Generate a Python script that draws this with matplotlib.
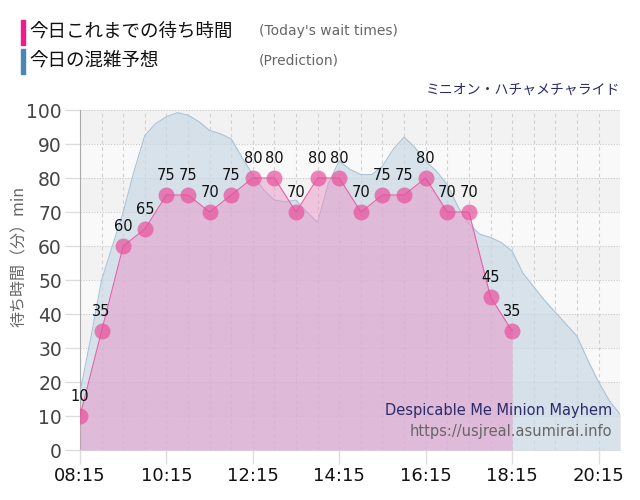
import matplotlib.pyplot as plt
import numpy as np

plt.rcParams['font.family'] = ['DejaVu Sans', 'Noto Sans CJK JP']

# actual wait times (every 30 min)
wait_times = ["08:15", "08:45", "09:15", "09:45", "10:15", "10:45", "11:15",
              "11:45", "12:15", "12:45", "13:15", "13:45", "14:15", "14:45",
              "15:15", "15:45", "16:15", "16:45", "17:15", "17:45", "18:15"]
wait_vals = [10, 35, 60, 65, 75, 75, 70, 75, 80, 80, 70, 80, 80, 70,
             75, 75, 80, 70, 70, 45, 35]

# prediction (every 15 min)
pred_times = ["08:15", "08:30", "08:45", "09:00", "09:15", "09:30", "09:45",
              "10:00", "10:15", "10:30", "10:45", "11:00", "11:15", "11:30",
              "11:45", "12:00", "12:15", "12:30", "12:45", "13:00", "13:15",
              "13:30", "13:45", "14:00", "14:15", "14:30", "14:45", "15:00",
              "15:15", "15:30", "15:45", "16:00", "16:15", "16:30", "16:45",
              "17:00", "17:15", "17:30", "17:45", "18:00", "18:15", "18:30",
              "18:45", "19:00", "19:15", "19:30", "19:45", "20:00", "20:15",
              "20:30", "20:45"]
pred_vals = [17, 33, 50, 60, 70, 82, 92.5, 96, 98, 99.2, 98.5, 96.6, 94, 93,
             91.5, 86, 81, 76.5, 73.5, 73, 73.5, 70, 67, 78.5, 85, 82.5, 81,
             81, 83.5, 88.5, 92, 89, 85, 82, 78, 71.5, 66.5, 63.5, 62.5, 61,
             58.5, 52, 48, 44, 40.5, 37, 33.5, 26.5, 20, 14.5, 10.5]

tick_labels = ["08:15", "10:15", "12:15", "14:15", "16:15", "18:15", "20:15"]


def to_h(s):
    h, m = s.split(":")
    return int(h) + int(m) / 60


wx = np.array([to_h(t) for t in wait_times])
px = np.array([to_h(t) for t in pred_times])

fig = plt.figure(figsize=(6.4, 5.0), dpi=100)
ax = fig.add_axes([0.125, 0.1, 0.844, 0.68])

x0, x1 = 8.25, 20.75
ax.set_xlim(x0, x1)
ax.set_ylim(0, 100)

# background bands
for i in range(10):
    c = '#f2f2f2' if i % 2 == 1 else '#f9f9f9'
    ax.axhspan(i * 10, i * 10 + 10, color=c, zorder=0, lw=0)

for y in range(10, 101, 10):
    ax.axhline(y, color='#c8c8c8', lw=0.8, ls=(0, (1, 1.5)), zorder=1)
for xv in np.arange(x0 + 0.5, x1, 0.5):
    ax.axvline(xv, color='#d0d0d0', lw=0.8, ls=(0, (3, 3)), zorder=1)

# prediction area
ax.fill_between(px, pred_vals, color='#c9d9e6', alpha=0.7, zorder=2, lw=0)
ax.plot(px, pred_vals, color='#a9c3d8', lw=0.8, zorder=3)

# wait time area
ax.fill_between(wx, wait_vals, color='#ec8cc4', alpha=0.45, zorder=4, lw=0)
ax.plot(wx, wait_vals, color='#e860a8', lw=0.8, zorder=5)
ax.plot(wx, wait_vals, 'o', ms=11.5, color='#e8509c', alpha=0.7,
        markeredgewidth=0, zorder=6)
for xv, yv in zip(wx, wait_vals):
    ax.text(xv, yv + 3.5, str(yv), ha='center', va='bottom', fontsize=10.5,
            color='#111111', zorder=7)

ax.set_xticks([to_h(t) for t in tick_labels])
ax.set_xticklabels(tick_labels, fontsize=13, color='#111111')
ax.set_yticks(range(0, 101, 10))
ax.set_yticklabels([str(v) for v in range(0, 101, 10)], fontsize=13.5,
                   color='#444444')
ax.tick_params(axis='x', length=10, color='#dddddd', width=1, pad=2)
ax.tick_params(axis='y', length=11, color='#dddddd', width=1, pad=2)

for s in ['top', 'right']:
    ax.spines[s].set_visible(False)
ax.spines['left'].set_color('#aaaaaa')
ax.spines['bottom'].set_color('#dddddd')

ax.set_ylabel("待ち時間（分）min", fontsize=11.5, color='#666666',
              family=['Noto Sans CJK JP', 'DejaVu Sans'])
ax.yaxis.set_label_coords(-52 / 540, (450 - 256) / 340)

ax.text(0.985, 0.115, "Despicable Me Minion Mayhem", transform=ax.transAxes,
        ha='right', va='center', fontsize=10.5, color='#2b2b6b', zorder=8)
ax.text(0.985, 0.055, "https://usjreal.asumirai.info", transform=ax.transAxes,
        ha='right', va='center', fontsize=10.5, color='#666666', zorder=8)

# legend-like header
fig.patches.append(plt.Rectangle((21 / 640, 1 - 45 / 500), 4 / 640, 25 / 500,
                                 transform=fig.transFigure, color='#ee1c8c'))
fig.patches.append(plt.Rectangle((21 / 640, 1 - 74 / 500), 4 / 640, 25 / 500,
                                 transform=fig.transFigure, color='#4a86b4'))
fig.text(29 / 640, 1 - 32 / 500, "今日これまでの待ち時間", fontsize=13.3,
         va='center', color='#111111', family=['Noto Sans CJK JP'])
fig.text(29 / 640, 1 - 61 / 500, "今日の混雑予想", fontsize=13.3,
         va='center', color='#111111', family=['Noto Sans CJK JP'])
fig.text(259 / 640, 1 - 31 / 500, "(Today's wait times)", fontsize=10,
         va='center', color='#666666')
fig.text(259 / 640, 1 - 60 / 500, "(Prediction)", fontsize=10,
         va='center', color='#666666')
fig.text(620 / 640, 1 - 90 / 500, "ミニオン・ハチャメチャライド", fontsize=10,
         ha='right', va='center', color='#2b2b6b', family=['Noto Sans CJK JP'])

fig.savefig('out.png', dpi=100)
